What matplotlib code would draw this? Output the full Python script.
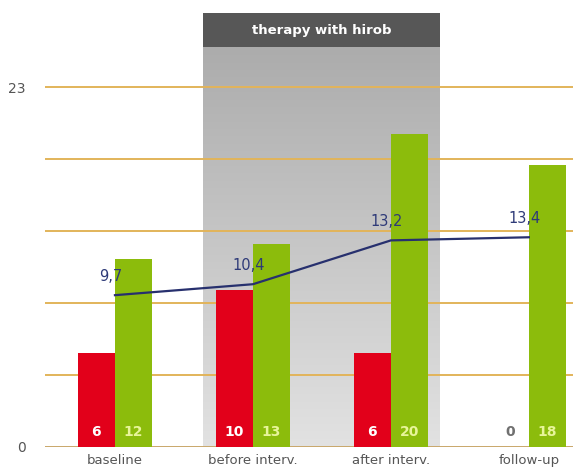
import numpy as np
import matplotlib
matplotlib.use("Agg")
import matplotlib.pyplot as plt
from matplotlib.patches import Rectangle
from matplotlib.colors import LinearSegmentedColormap

categories = ["baseline", "before interv.", "after interv.", "follow-up"]
red_values = [6, 10, 6, 0]
green_values = [12, 13, 20, 18]
line_values = [9.7, 10.4, 13.2, 13.4]
line_labels = ["9,7", "10,4", "13,2", "13,4"]
grid_values = [0, 4.6, 9.2, 13.8, 18.4, 23]
ytick_values = [0, 23]
band_title = "therapy with hirob"

fig = plt.figure(figsize=(5.73, 4.72), dpi=100)
ax = fig.add_axes([45/573, 25/472, 1 - 45/573, (447-13)/472])
ymax = 23 * 434 / 360
ax.set_xlim(-0.507, 3.32)
ax.set_ylim(0, ymax)

x = np.arange(len(categories))
w = 0.27

# gradient band
band_l, band_r = 0.64, 2.355
head_bottom = 23 * (447 - 47) / 360
grad = np.linspace(0, 1, 256).reshape(-1, 1)
cmap = LinearSegmentedColormap.from_list("g", ["#e2e2e2", "#acacac"])
ax.imshow(grad, extent=[band_l, band_r, 0, head_bottom], cmap=cmap, aspect='auto',
          zorder=0, origin='lower')
ax.add_patch(Rectangle((band_l, head_bottom), band_r - band_l, ymax - head_bottom,
                       facecolor="#575757", edgecolor="none", zorder=1))
ax.text((band_l + band_r) / 2, (head_bottom + ymax) / 2, band_title, color="white",
        ha="center", va="center", fontsize=9.5, fontweight="bold", zorder=5)

for g in grid_values[1:]:
    ax.axhline(g, color="#e2b45a", lw=1.4, zorder=1.5)
ax.axhline(0, color="#c9a76a", lw=1.4, zorder=1.5)

ax.bar(x - w/2, red_values, width=w, color="#e2001a", zorder=2)
ax.bar(x + w/2, green_values, width=w, color="#8cbc0c", zorder=2)

for i in range(len(categories)):
    rc = "white" if red_values[i] > 0 else "#707070"
    ax.text(x[i] - w/2, 0.95, str(red_values[i]), color=rc, ha="center",
            va="center", fontsize=10, fontweight="bold", zorder=4)
    ax.text(x[i] + w/2, 0.95, str(green_values[i]), color="#e8f59a", ha="center",
            va="center", fontsize=10, fontweight="bold", zorder=4)

ax.plot(x, line_values, color="#27306e", lw=1.6, zorder=3)
for i in range(len(categories)):
    ax.annotate(line_labels[i], (x[i], line_values[i]), xytext=(-3, 8),
                textcoords="offset points", ha="center", va="bottom",
                color="#2e3a78", fontsize=10.5, zorder=4)

ax.set_yticks(ytick_values)
ax.set_yticklabels([str(v) for v in ytick_values], color="#555555", fontsize=10)
ax.set_xticks(x)
ax.set_xticklabels(categories, color="#555555", fontsize=9.5)
ax.tick_params(axis="both", length=0)
ax.tick_params(axis="y", pad=14)
ax.tick_params(axis="x", pad=5)
for s in ax.spines.values():
    s.set_visible(False)

fig.savefig("out.png", dpi=100)
